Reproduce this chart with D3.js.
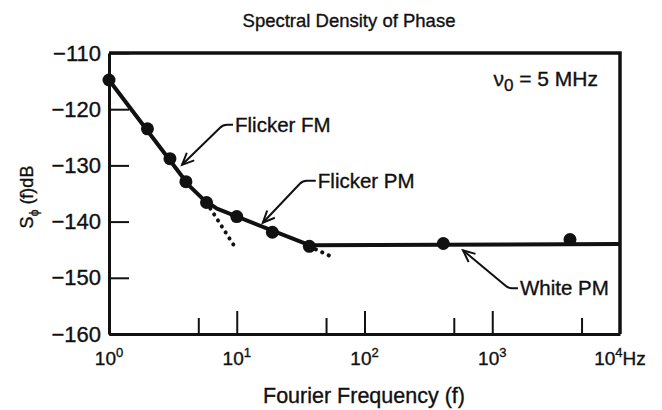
<!DOCTYPE html>
<html>
<head>
<meta charset="utf-8">
<script src="https://cdn.jsdelivr.net/npm/d3@7"></script>
<style>
  body { margin: 0; background: #fff; }
  svg { display: block; font-family: "Liberation Sans", Arial, Helvetica, sans-serif; }
  text { fill: #111; stroke: #111; stroke-width: 0.35px; }
</style>
</head>
<body>
<svg width="662" height="410"></svg>
<script>
const svg = d3.select("svg");

// measured points (Fourier frequency in Hz, S_phi in dB)
const pointFreq = [1, 2, 3, 4, 5.8, 10, 19, 37, 414, 4060];
const pointDb = [-114.8, -123.5, -128.8, -132.9, -136.6, -139.1, -141.9, -144.4, -143.9, -143.2];

// fitted curve
const curveFreq = [1, 4.2, 5.5, 7, 37, 10000];
const curveDb = [-114.8, -133.5, -136.1, -137.7, -144.2, -144.0];

// dotted extensions of the two flicker asymptotes
const fmDotFreq = [5.8, 9.6];
const fmDotDb = [-136.6, -144.4];
const pmDotFreq = [37, 56];
const pmDotDb = [-144.4, -146.3];

const yTicks = [-110, -120, -130, -140, -150, -160];
const xMinorTicks = [5, 50, 500, 5000];
const xMajorTicks = [10, 100, 1000];
const xLabelExp = [0, 1, 2, 3, 4];

// annotation arrows: tip in data units
const notes = [
  { text: "Flicker FM", f: 3.73, db: -129.9, dx: 41, dy: -40, run: 10 },
  { text: "Flicker PM", f: 16, db: -140.2, dx: 40, dy: -42, run: 13 },
  { text: "White PM", f: 590, db: -145.1, dx: 45, dy: 38, run: 10 }
];

const x = d3.scaleLog().domain([1, 1e4]).range([109, 620]);
const y = d3.scaleLinear().domain([-160, -110]).range([334, 53]);

// title
svg.append("text")
  .attr("x", 349).attr("y", 27)
  .attr("text-anchor", "middle")
  .style("font-size", "18.5px")
  .text("Spectral Density of Phase");

// frame: top and right
svg.append("path")
  .attr("d", `M${x(1)},${y(-110)}H${x(1e4)}V${y(-160)}`)
  .attr("fill", "none").attr("stroke", "#111").attr("stroke-width", 3.5);

// y axis (ticks pointing inward)
const yAxis = svg.append("g")
  .attr("transform", `translate(${x(1)},0)`)
  .call(d3.axisLeft(y).tickValues(yTicks).tickSize(-20).tickSizeOuter(0).tickPadding(8));
yAxis.select(".domain").attr("stroke-width", 3).attr("stroke", "#111");
yAxis.selectAll(".tick line").attr("stroke-width", 2).attr("stroke", "#111");
yAxis.selectAll(".tick text")
  .style("font-size", "22px").style("font-family", "inherit").attr("fill", "#111");

// x axis
const xAxis = svg.append("g")
  .attr("transform", `translate(0,${y(-160)})`)
  .call(d3.axisBottom(x).tickValues(xMinorTicks).tickSize(-16).tickSizeOuter(0).tickFormat(""));
xAxis.select(".domain").attr("stroke-width", 3).attr("stroke", "#111");
xAxis.selectAll(".tick line").attr("stroke-width", 2).attr("stroke", "#111");
const xMajor = svg.append("g")
  .attr("transform", `translate(0,${y(-160)})`)
  .call(d3.axisBottom(x).tickValues(xMajorTicks).tickSize(-23).tickSizeOuter(0).tickFormat(""));
xMajor.select(".domain").remove();
xMajor.selectAll(".tick line").attr("stroke-width", 2).attr("stroke", "#111");

// x tick labels 10^n
const xl = svg.append("g").selectAll("text")
  .data(xLabelExp).enter().append("text")
  .attr("x", d => x(Math.pow(10, d)))
  .attr("y", 365)
  .attr("text-anchor", "middle")
  .style("font-size", "19px");
xl.append("tspan").text("10");
xl.append("tspan").attr("dy", -8).style("font-size", "13px").text(d => d);
xl.filter(d => d === 4).append("tspan").attr("dy", 8).text("Hz");

// axis titles
svg.append("text")
  .attr("x", 364).attr("y", 403)
  .attr("text-anchor", "middle")
  .style("font-size", "21.5px")
  .text("Fourier Frequency (f)");

const yl = svg.append("text")
  .attr("transform", "translate(33,197) rotate(-90)")
  .attr("text-anchor", "middle")
  .style("font-size", "18px");
yl.append("tspan").text("S");
yl.append("tspan").attr("dy", 5).style("font-size", "12px").text("ϕ");
yl.append("tspan").attr("dy", -5).text(" (f)dB");

// ν0 label
const nu = svg.append("text")
  .attr("x", 598).attr("y", 86)
  .attr("text-anchor", "end")
  .style("font-size", "21px");
nu.append("tspan").text("ν");
nu.append("tspan").attr("dy", 5).style("font-size", "17px").text("0");
nu.append("tspan").attr("dy", -5).text(" = 5 MHz");

// curve
const line = d3.line()
  .x(d => x(d[0])).y(d => y(d[1]));
svg.append("path")
  .datum(d3.zip(curveFreq, curveDb))
  .attr("d", line)
  .attr("fill", "none").attr("stroke", "#111").attr("stroke-width", 4)
  .attr("stroke-linejoin", "round");

// dotted asymptotes
[[fmDotFreq, fmDotDb], [pmDotFreq, pmDotDb]].forEach(([fs, ds]) => {
  svg.append("path")
    .datum(d3.zip(fs, ds))
    .attr("d", line)
    .attr("fill", "none").attr("stroke", "#111")
    .attr("stroke-width", 4).attr("stroke-linecap", "round")
    .attr("stroke-dasharray", "0.1 7");
});

// points
svg.selectAll("circle.pt")
  .data(d3.zip(pointFreq, pointDb))
  .enter().append("circle")
  .attr("class", "pt")
  .attr("cx", d => x(d[0])).attr("cy", d => y(d[1]))
  .attr("r", 6.5)
  .attr("fill", "#111");

// annotations
notes.forEach(n => {
  const tx = x(n.f), ty = y(n.db);
  const ex = tx + n.dx, ey = ty + n.dy;
  const ang = Math.atan2(n.dy, n.dx);
  const hl = 13, ha = 0.42;
  const g = svg.append("g").attr("fill", "none").attr("stroke", "#111").attr("stroke-width", 2);
  g.append("path").attr("d", `M${tx},${ty}L${ex - 3},${ey - 3 * Math.sign(n.dy)}Q${ex},${ey} ${ex + 4},${ey}H${ex + n.run}`);
  g.append("path").attr("d",
    `M${tx + hl * Math.cos(ang - ha)},${ty + hl * Math.sin(ang - ha)}L${tx},${ty}L${tx + hl * Math.cos(ang + ha)},${ty + hl * Math.sin(ang + ha)}`);
  svg.append("text")
    .attr("x", ex + n.run + 2).attr("y", ey + 7)
    .style("font-size", "20.5px")
    .text(n.text);
});
</script>
</body>
</html>
